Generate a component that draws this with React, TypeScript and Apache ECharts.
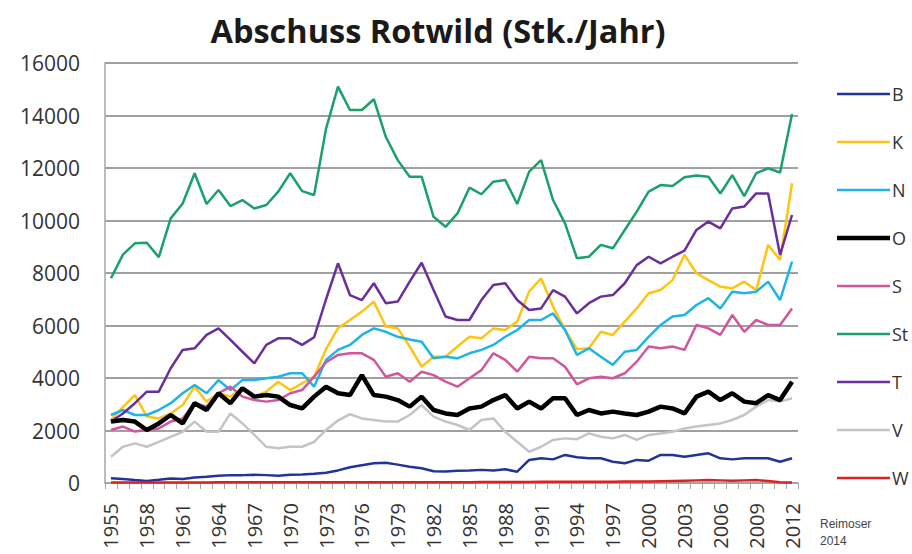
import React, { useEffect, useRef } from "react";
import * as echarts from "echarts";

const years: string[] = [];
for (let y = 1955; y <= 2012; y++) years.push(String(y));

const seriesNames = ["B", "K", "N", "O", "S", "St", "T", "V", "W"];
const colors = ["#22349a", "#ffc410", "#1fb4e6", "#000000", "#d0589a", "#1aa06a", "#6a2f9c", "#c4c4c4", "#e02020"];
const widths = [2.5, 2.5, 2.5, 4.5, 2.5, 2.5, 2.5, 2.5, 2.5];

const B = [180, 150, 110, 80, 120, 170, 150, 210, 240, 280, 300, 300, 310, 300, 280, 310, 320, 350, 390, 480, 600, 680, 750, 770, 700, 620, 560, 450, 440, 470, 480, 500, 480, 520, 430, 880, 940, 900, 1070, 980, 940, 940, 810, 750, 880, 850, 1070, 1070, 1000, 1070, 1130, 940, 900, 940, 940, 940, 810, 940];
const K = [2400, 2900, 3350, 2530, 2460, 2650, 2970, 3670, 3100, 3420, 3290, 3610, 3290, 3480, 3860, 3540, 3800, 4050, 5100, 5900, 6210, 6530, 6910, 5960, 5890, 5200, 4430, 4810, 4810, 5200, 5570, 5510, 5890, 5830, 6150, 7290, 7800, 6720, 5830, 5100, 5130, 5760, 5640, 6150, 6650, 7230, 7350, 7730, 8690, 7990, 7730, 7480, 7420, 7670, 7350, 9070, 8500, 11420];
const N = [2590, 2780, 2590, 2590, 2780, 3040, 3420, 3730, 3420, 3920, 3540, 3920, 3920, 3990, 4050, 4180, 4180, 3670, 4690, 5070, 5260, 5640, 5890, 5760, 5570, 5470, 5380, 4750, 4810, 4750, 4940, 5070, 5260, 5570, 5830, 6210, 6210, 6460, 5830, 4880, 5130, 4810, 4500, 5000, 5070, 5570, 6020, 6340, 6400, 6780, 7040, 6650, 7290, 7230, 7290, 7670, 6970, 8430];
const O = [2340, 2400, 2340, 2020, 2270, 2590, 2270, 3040, 2780, 3420, 3040, 3610, 3290, 3350, 3290, 2970, 2840, 3290, 3670, 3420, 3350, 4110, 3350, 3290, 3160, 2910, 3290, 2780, 2650, 2590, 2840, 2910, 3160, 3350, 2840, 3100, 2840, 3230, 3230, 2590, 2780, 2650, 2720, 2650, 2590, 2720, 2910, 2840, 2650, 3290, 3480, 3160, 3420, 3100, 3040, 3350, 3160, 3860];
const S = [2020, 2150, 1960, 2020, 2080, 2340, 2460, 3040, 2910, 3420, 3670, 3290, 3160, 3100, 3160, 3420, 3540, 4050, 4600, 4880, 4940, 4940, 4690, 4050, 4180, 3860, 4240, 4110, 3860, 3670, 3990, 4300, 4940, 4690, 4240, 4810, 4750, 4750, 4430, 3760, 3990, 4050, 3990, 4180, 4620, 5200, 5130, 5200, 5070, 6020, 5890, 5640, 6400, 5760, 6210, 6020, 6020, 6650];
const St = [7800, 8700, 9130, 9150, 8600, 10080, 10650, 11800, 10630, 11160, 10550, 10780, 10460, 10590, 11100, 11800, 11120, 10970, 13500, 15100, 14210, 14210, 14620, 13190, 12300, 11670, 11670, 10140, 9760, 10270, 11250, 11000, 11480, 11540, 10630, 11860, 12300, 10780, 9890, 8560, 8620, 9070, 8940, 9640, 10340, 11100, 11350, 11310, 11650, 11710, 11670, 11030, 11730, 10930, 11800, 11990, 11830, 14060];
const T = [2340, 2650, 3040, 3480, 3480, 4370, 5070, 5130, 5640, 5890, 5450, 5000, 4560, 5260, 5510, 5510, 5260, 5550, 7000, 8370, 7160, 6970, 7610, 6850, 6910, 7670, 8390, 7350, 6340, 6210, 6210, 6970, 7540, 7610, 6970, 6590, 6650, 7350, 7100, 6460, 6850, 7100, 7160, 7610, 8300, 8620, 8370, 8620, 8850, 9640, 9960, 9700, 10460, 10530, 11030, 11030, 8690, 10210];
const V = [1000, 1380, 1510, 1380, 1570, 1760, 1950, 2340, 1950, 1950, 2650, 2270, 1830, 1380, 1320, 1380, 1380, 1570, 2020, 2380, 2620, 2460, 2400, 2340, 2340, 2590, 2970, 2530, 2340, 2210, 2020, 2400, 2460, 1950, 1570, 1190, 1380, 1640, 1700, 1670, 1890, 1760, 1700, 1830, 1640, 1830, 1890, 1950, 2080, 2150, 2210, 2270, 2400, 2590, 2910, 3160, 3100, 3230];
const W = [20, 20, 15, 15, 15, 20, 20, 20, 20, 25, 25, 25, 25, 25, 25, 25, 25, 30, 30, 30, 30, 30, 30, 30, 30, 30, 30, 30, 30, 30, 30, 35, 35, 35, 40, 40, 45, 45, 50, 45, 45, 50, 50, 55, 60, 60, 70, 80, 90, 100, 110, 100, 90, 100, 110, 80, 30, 20];

const allData = [B, K, N, O, S, St, T, V, W];

export default function App() {
  const ref = useRef<HTMLDivElement>(null);
  useEffect(() => {
    if (!ref.current) return;
    const chart = echarts.init(ref.current, null, { renderer: "svg" });
    const font = "'Open Sans', sans-serif";
    const legendItems: any[] = [];
    seriesNames.forEach((name, i) => {
      const y = 94 + i * 48;
      legendItems.push({
        type: "line",
        shape: { x1: 837, y1: y, x2: 890, y2: y },
        style: { stroke: colors[i], lineWidth: widths[i] },
      });
      legendItems.push({
        type: "text",
        x: 892,
        y: y,
        style: {
          text: name,
          font: `18px ${font}`,
          fill: "#333",
          verticalAlign: "middle",
          align: "left",
        },
      });
    });
    chart.setOption({
      animation: false,
      backgroundColor: "#ffffff",
      title: {
        text: "Abschuss Rotwild (Stk./Jahr)",
        left: 433,
        textAlign: "center",
        top: 9,
        textStyle: { fontFamily: font, fontSize: 32.5, fontWeight: "bold", color: "#1a1a1a" },
      },
      grid: { left: 105, right: 114, top: 63, bottom: 71 },
      xAxis: {
        type: "category",
        data: years,
        boundaryGap: true,
        axisLine: { lineStyle: { color: "#a6a6a6", width: 1.5 } },
        axisTick: { show: true, interval: 0, length: 6, lineStyle: { color: "#a6a6a6" } },
        axisLabel: { interval: 2, rotate: 90, fontFamily: font, fontSize: 20, color: "#333", margin: 20 },
      },
      yAxis: {
        type: "value",
        min: 0,
        max: 16000,
        interval: 2000,
        axisLine: { show: true, lineStyle: { color: "#a6a6a6", width: 1.5 } },
        axisTick: { show: false },
        splitLine: { lineStyle: { color: "#a0a0a0", width: 1.8 } },
        axisLabel: {
          fontFamily: font,
          fontSize: 21,
          color: "#333",
          margin: 25,
          formatter: (v: number) => String(v),
        },
      },
      series: seriesNames.map((name, i) => ({
        name,
        type: "line",
        data: allData[i],
        symbol: "none",
        z: i === 3 ? 5 : 2,
        lineStyle: { color: colors[i], width: widths[i] },
        itemStyle: { color: colors[i] },
      })),
      graphic: [
        ...legendItems,
        {
          type: "text",
          x: 820,
          y: 515,
          style: { text: "Reimoser\n2014", font: "12px 'Liberation Sans', sans-serif", fill: "#444", lineHeight: 17 },
        },
      ],
    });
    return () => chart.dispose();
  }, []);
  return <div ref={ref} style={{ width: 912, height: 554, position: "absolute", left: 0, top: 0 }} />;
}
